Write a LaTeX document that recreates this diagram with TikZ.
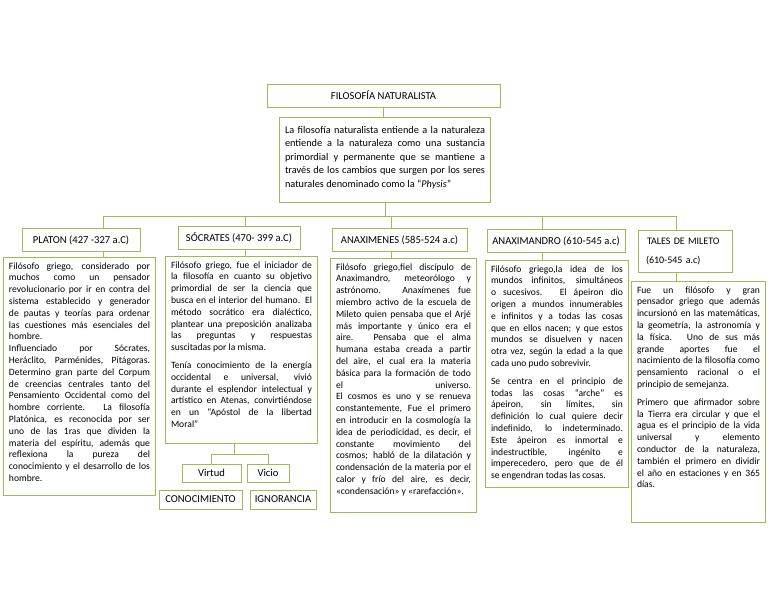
\documentclass[tikz,border=0pt]{standalone}
\usepackage{fontspec}
\setmainfont{Carlito}
\usetikzlibrary{positioning}
\definecolor{leaf}{RGB}{155,187,89}
\hyphenpenalty=10000
\exhyphenpenalty=10000
\newcommand{\colbody}[3]{\parbox[c][#1][t]{#2}{#3}}

\begin{document}
\begin{tikzpicture}[x=1pt, y=-1pt,
  box/.style={rectangle, draw=leaf, line width=1pt, inner sep=2pt, font=\fontsize{10.6}{12}\selectfont},
  head/.style={box, minimum height=23pt},
  body/.style={rectangle, draw=leaf, line width=1pt, anchor=north west, inner xsep=5.5pt, inner ysep=5pt, font=\fontsize{9.6}{11.8}\selectfont},
  link/.style={draw=leaf, line width=1pt}
]
  \useasboundingbox (0,0) rectangle (768,594);

  \node[box, minimum width=233pt, minimum height=23pt] (title) at (383.5,95.5) {FILOSOFÍA NATURALISTA};
  \node[body, anchor=north, inner ysep=8.5pt, font=\fontsize{10.3}{13.5}\selectfont] (def) at (385,117) {\colbody{68pt}{200pt}{%
    La filosofía naturalista entiende a la naturaleza\linebreak
    entiende a la naturaleza como una sustancia\linebreak
    primordial y permanente que se mantiene a\linebreak
    través de los cambios que surgen por los seres\linebreak
    naturales denominado como la “\textit{Physis}”}};
  \draw[link] (title.south) -- (title.south |- def.north);

  % column heads
  \node[head, minimum width=118pt] (platonhd) at (81,240) {PLATON (427 -327 a.C)};
  \node[head, minimum width=122pt] (socrateshd) at (239,238) {SÓCRATES (470- 399 a.C)};
  \node[head, minimum width=135pt] (anaximeneshd) at (399.5,240) {ANAXIMENES (585-524 a.c)};
  \node[head, minimum width=138pt] (anaximandrohd) at (556,241) {ANAXIMANDRO (610-545 a.c)};
  \node[box, minimum width=94pt, minimum height=42pt, text width=86pt, align=left, font=\fontsize{10}{12}\selectfont] (taleshd) at (685,251)
    {\hspace*{5pt}TALES DE MILETO\\[7pt]\hspace*{4pt}(610-545 a.c)};

  \coordinate (d1) at (103,216);
  \coordinate (d2) at (245,216);
  \coordinate (d3) at (391,216);
  \coordinate (d4) at (542,216);
  \coordinate (d5) at (676,216);
  \draw[link] (d1) -- (d5);
  \draw[link] (def.south) -- (def.south |- d1);

  % column bodies
  \node[body] (platon) at (3,257) {\colbody{228pt}{141pt}{%
    Filósofo griego, considerado por\linebreak
    muchos como un pensador\linebreak
    revolucionario por ir en contra del\linebreak
    sistema establecido y generador\linebreak
    de pautas y teorías para ordenar\linebreak
    las cuestiones más esenciales del\linebreak
    hombre.\\
    Influenciado por Sócrates,\linebreak
    Heráclito, Parménides, Pitágoras.\linebreak
    Determino gran parte del Corpum\linebreak
    de creencias centrales tanto del\linebreak
    Pensamiento Occidental como del\linebreak
    hombre corriente. La filosofía\linebreak
    Platónica, es reconocida por ser\linebreak
    uno de las 1ras que dividen la\linebreak
    materia del espíritu, además que\linebreak
    reflexiona la pureza del\linebreak
    conocimiento y el desarrollo de los\linebreak
    hombre.}};

  \node[body] (socrates) at (165,256) {\colbody{177pt}{141pt}{%
    Filósofo griego, fue el iniciador de\linebreak
    la filosofía en cuanto su objetivo\linebreak
    primordial de ser la ciencia que\linebreak
    busca en el interior del humano. El\linebreak
    método socrático era dialéctico,\linebreak
    plantear una preposición analizaba\linebreak
    las preguntas y respuestas\linebreak
    suscitadas por la misma.\par\vspace{6pt}
    Tenía conocimiento de la energía\linebreak
    occidental e universal, vivió\linebreak
    durante el esplendor intelectual y\linebreak
    artístico en Atenas, convirtiéndose\linebreak
    en un “Apóstol de la libertad\linebreak
    Moral”}};

  \node[body] (anaximenes) at (330,258) {\colbody{244pt}{135pt}{%
    Filósofo griego,fiel discípulo de\linebreak
    Anaximandro, meteorólogo y\linebreak
    astrónomo. Anaxímenes fue\linebreak
    miembro activo de la escuela de\linebreak
    Mileto quien pensaba que el Arjé\linebreak
    más importante y único era el\linebreak
    aire. Pensaba que el alma\linebreak
    humana estaba creada a partir\linebreak
    del aire, el cual era la materia\linebreak
    básica para la formación de todo\linebreak
    el universo.\linebreak
    El cosmos es uno y se renueva\linebreak
    constantemente, Fue el primero\linebreak
    en introducir en la cosmología la\linebreak
    idea de periodicidad, es decir, el\linebreak
    constante movimiento del\linebreak
    cosmos; habló de la dilatación y\linebreak
    condensación de la materia por el\linebreak
    calor y frío del aire, es decir,\linebreak
    «condensación» y «rarefacción».}};

  \node[body] (anaximandro) at (485,260) {\colbody{217pt}{132pt}{%
    Filósofo griego,la idea de los\linebreak
    mundos infinitos, simultáneos\linebreak
    o sucesivos. El ápeiron dio\linebreak
    origen a mundos innumerables\linebreak
    e infinitos y a todas las cosas\linebreak
    que en ellos nacen; y que estos\linebreak
    mundos se disuelven y nacen\linebreak
    otra vez, según la edad a la que\linebreak
    cada uno pudo sobrevivir.\par\vspace{6pt}
    Se centra en el principio de\linebreak
    todas las cosas “arche” es\linebreak
    ápeiron, sin límites, sin\linebreak
    definición lo cual quiere decir\linebreak
    indefinido, lo indeterminado.\linebreak
    Este ápeiron es inmortal e\linebreak
    indestructible, ingénito e\linebreak
    imperecedero, pero que de él\linebreak
    se engendran todas las cosas.}};

  \node[body] (tales) at (631,281) {\colbody{231pt}{123pt}{%
    Fue un filósofo y gran\linebreak
    pensador griego que además\linebreak
    incursionó en las matemáticas,\linebreak
    la geometría, la astronomía y\linebreak
    la física. Uno de sus más\linebreak
    grande aportes fue el\linebreak
    nacimiento de la filosofía como\linebreak
    pensamiento racional o el\linebreak
    principio de semejanza.\par\vspace{6pt}
    Primero que afirmador sobre\linebreak
    la Tierra era circular y que el\linebreak
    agua es el principio de la vida\linebreak
    universal y elemento\linebreak
    conductor de la naturaleza,\linebreak
    también el primero en dividir\linebreak
    el año en estaciones y en 365\linebreak
    días.}};

  % drops from the bus
  \draw[link] (d1) -- (d1 |- platonhd.north);
  \draw[link] (d1 |- platonhd.south) -- (d1 |- platon.north);
  \draw[link] (d2) -- (d2 |- socrateshd.north);
  \draw[link] (d2 |- socrateshd.south) -- (d2 |- socrates.north);
  \draw[link] (d3) -- (d3 |- anaximeneshd.north);
  \draw[link] (d3 |- anaximeneshd.south) -- (d3 |- anaximenes.north);
  \draw[link] (d4) -- (d4 |- anaximandrohd.north);
  \draw[link] (d4 |- anaximandrohd.south) -- (d4 |- anaximandro.north);
  \draw[link] (d5) -- (d5 |- taleshd.north);
  \draw[link] (d5 |- taleshd.south) -- (d5 |- tales.north);

  % virtue and vice under Socrates
  \node[box, minimum width=59pt, minimum height=18pt] (virtud) at (211.5,473) {Virtud};
  \node[box, minimum width=42pt, minimum height=18pt] (vicio) at (268,473) {Vicio};
  \node[box, minimum width=83pt, minimum height=19pt] (conoc) at (200.5,499.5) {CONOCIMIENTO};
  \node[box, minimum width=66pt, minimum height=19pt] (ignor) at (283,499.5) {IGNORANCIA};
  \coordinate (fork) at (234,454);
  \draw[link] (socrates.south -| fork) -- (fork);
  \draw[link] (virtud.north |- fork) -- (vicio.north |- fork);
  \draw[link] (virtud.north |- fork) -- (virtud.north);
  \draw[link] (vicio.north |- fork) -- (vicio.north);
\end{tikzpicture}
\end{document}
